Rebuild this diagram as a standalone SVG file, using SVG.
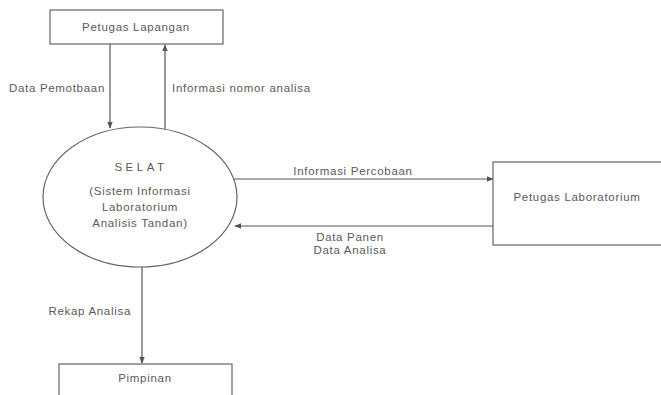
<svg xmlns="http://www.w3.org/2000/svg" width="661" height="395" viewBox="0 0 661 395">
  <defs>
    <marker id="arrow" viewBox="0 0 10 10" refX="9" refY="5" markerWidth="6" markerHeight="6" orient="auto">
      <path d="M0,1 L10,5 L0,9 z" fill="#555"/>
    </marker>
    <style>
      .box { fill: #fff; stroke: #666; stroke-width: 1.2; }
      .flow { fill: none; stroke: #555; stroke-width: 1.2; marker-end: url(#arrow); }
      text { font-family: "Liberation Sans", Arial, sans-serif; font-size: 11.5px; letter-spacing: 0.7px; fill: #5a5a5a; }
      .mid { text-anchor: middle; }
      .end { text-anchor: end; }
      .spaced { letter-spacing: 3.5px; }
    </style>
  </defs>
  <rect width="661" height="395" fill="#fff"/>

  <!-- data flows -->
  <g id="connectors">
    <line class="flow" x1="110" y1="44" x2="110" y2="128"/>
    <line class="flow" x1="165" y1="129" x2="165" y2="45"/>
    <line class="flow" x1="233" y1="179" x2="493" y2="179"/>
    <line class="flow" x1="493" y1="226" x2="235" y2="226"/>
    <line class="flow" x1="142" y1="267" x2="142" y2="363"/>
    <text class="end" x="105" y="92">Data Pemotbaan</text>
    <text x="172" y="92">Informasi nomor analisa</text>
    <text class="mid" x="353" y="175">Informasi Percobaan</text>
    <text class="mid" x="350" y="241">Data Panen</text>
    <text class="mid" x="350" y="254">Data Analisa</text>
    <text class="end" x="131" y="315">Rekap Analisa</text>
  </g>

  <g id="petugas-lapangan">
    <rect class="box" x="50" y="10" width="173" height="34"/>
    <text class="mid" x="136" y="31">Petugas Lapangan</text>
  </g>

  <g id="selat">
    <ellipse class="box" cx="140" cy="197" rx="97" ry="70"/>
    <text class="mid spaced" x="141" y="171">SELAT</text>
    <text class="mid" x="140" y="195">(Sistem Informasi</text>
    <text class="mid" x="140" y="211">Laboratorium</text>
    <text class="mid" x="140" y="227">Analisis Tandan)</text>
  </g>

  <g id="petugas-laboratorium">
    <rect class="box" x="493" y="162" width="175" height="83"/>
    <text class="mid" x="577" y="201">Petugas Laboratorium</text>
  </g>

  <g id="pimpinan">
    <rect class="box" x="59" y="364" width="173" height="40"/>
    <text class="mid" x="145" y="382">Pimpinan</text>
  </g>
</svg>
